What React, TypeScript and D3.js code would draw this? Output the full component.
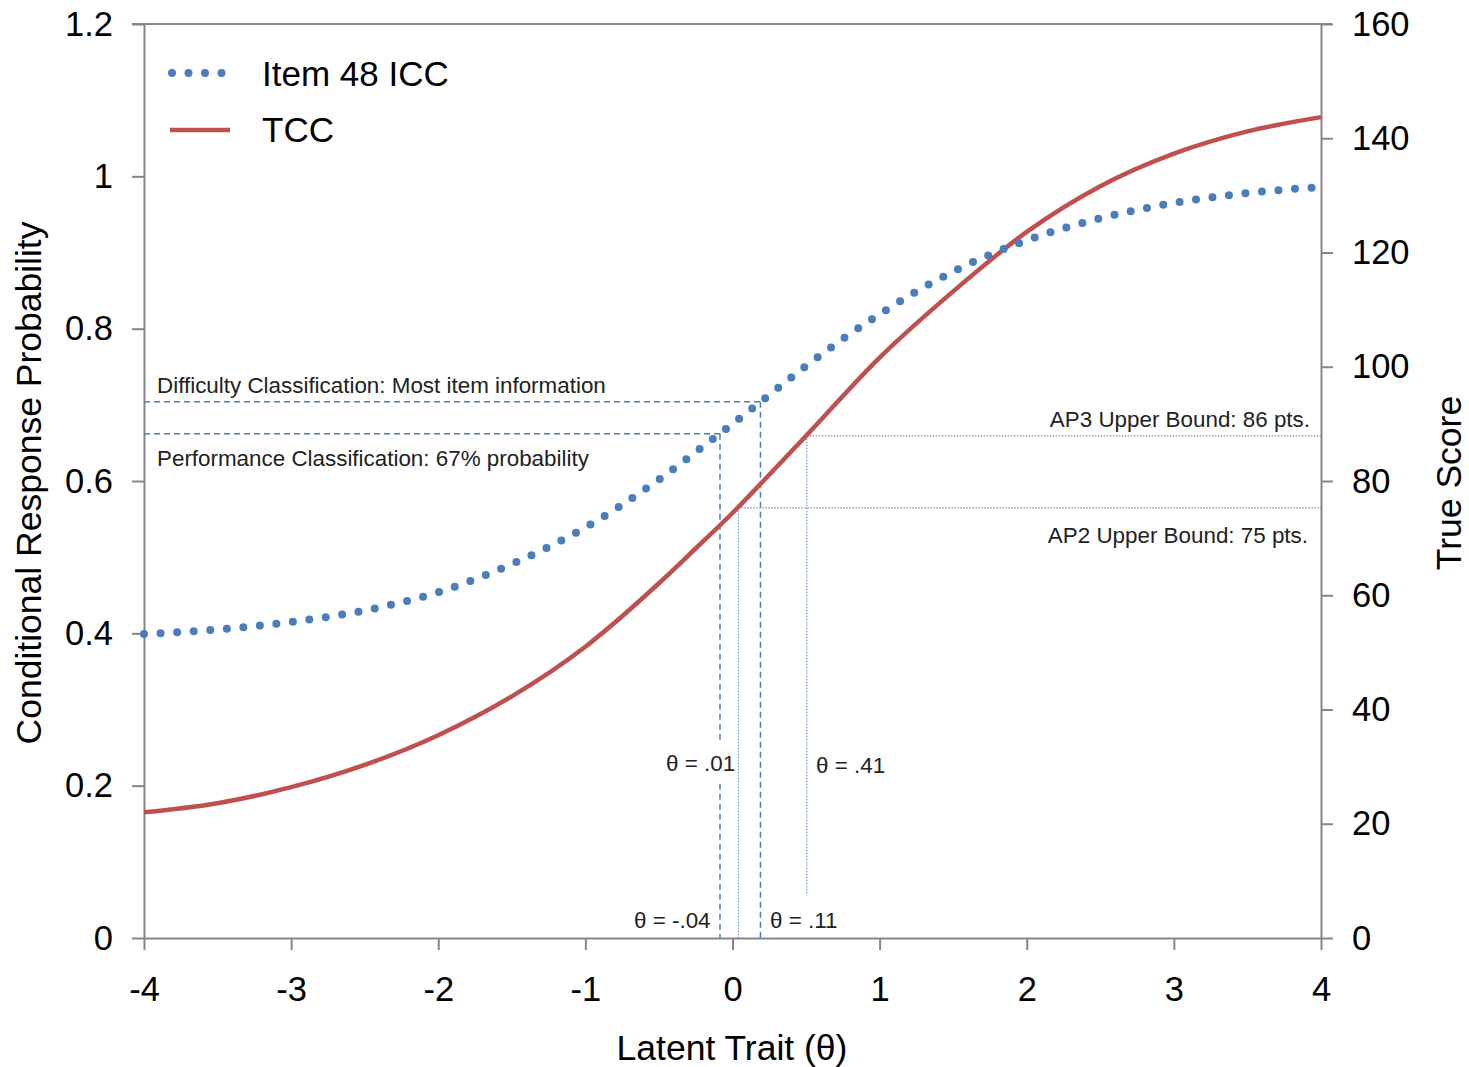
import React, { Component } from "react";
import * as d3 from "d3";

// theta grid and the two curves
const thetas = [-4, -3.5, -3, -2.5, -2, -1.5, -1, -0.5, -0.25, 0, 0.25, 0.5, 1, 1.5, 2, 2.5, 3, 3.5, 4];
const iccValues = [0.399, 0.405, 0.415, 0.43, 0.454, 0.491, 0.539, 0.602, 0.638, 0.675, 0.713, 0.751, 0.819, 0.875, 0.916, 0.945, 0.965, 0.978, 0.986];
const tccValues = [22.0, 23.6, 26.4, 30.3, 35.5, 42.3, 51.0, 62.1, 68.2, 74.4, 81.1, 87.9, 101.6, 113.2, 123.6, 131.6, 137.3, 141.2, 143.7];

const xTicks = [-4, -3, -2, -1, 0, 1, 2, 3, 4];
const leftTicks = [0, 0.2, 0.4, 0.6, 0.8, 1, 1.2];
const rightTicks = [0, 20, 40, 60, 80, 100, 120, 140, 160];

// reference lines (theta, probability / true score)
const difficultyGuide = { theta: 0.19, prob: 0.704 };
const performanceGuide = { theta: -0.085, prob: 0.662 };
const ap3Guide = { theta: 0.505, score: 87.9, bottom: 7.5 };
const ap2Guide = { theta: 0.04, score: 75.3, bottom: 0 };

const FONT = "'Liberation Sans', Arial, sans-serif";
const BLUE = "#4A7EBB";
const RED = "#C0504D";
const AXIS = "#868686";

class App extends Component {
    svgRef = React.createRef<SVGSVGElement>();

    componentDidMount() {
        this.drawChart();
    }

    drawChart() {
        const svg = d3.select(this.svgRef.current);
        svg.selectAll("*").remove();

        const x = d3.scaleLinear().domain([-4, 4]).range([144, 1321]);
        const yLeft = d3.scaleLinear().domain([0, 1.2]).range([938, 24]);
        const yRight = d3.scaleLinear().domain([0, 160]).range([938, 24]);

        //top border
        svg.append("line")
            .attr("x1", 132).attr("x2", 1332)
            .attr("y1", yLeft(1.2)).attr("y2", yLeft(1.2))
            .attr("stroke", AXIS).attr("stroke-width", 2);

        //axes
        const styleAxis = (g: any) => {
            g.select(".domain").attr("stroke", AXIS).attr("stroke-width", 2);
            g.selectAll(".tick line").attr("stroke", AXIS).attr("stroke-width", 2);
            g.selectAll(".tick text")
                .attr("font-family", FONT)
                .attr("font-size", 34.5)
                .attr("fill", "#000");
        };

        svg.append("g")
            .attr("transform", "translate(0," + yLeft(0) + ")")
            .call(d3.axisBottom(x).tickValues(xTicks).tickSize(12).tickSizeOuter(0).tickPadding(27)
                .tickFormat((d: any) => String(d)))
            .call(styleAxis);

        svg.append("g")
            .attr("transform", "translate(" + x(-4) + ",0)")
            .call(d3.axisLeft(yLeft).tickValues(leftTicks).tickSize(12).tickSizeOuter(0).tickPadding(19)
                .tickFormat((d: any) => String(+d.toFixed(1))))
            .call(styleAxis);

        svg.append("g")
            .attr("transform", "translate(" + x(4) + ",0)")
            .call(d3.axisRight(yRight).tickValues(rightTicks).tickSize(12).tickSizeOuter(0).tickPadding(19)
                .tickFormat((d: any) => String(d)))
            .call(styleAxis);

        //guide lines
        const guides = svg.append("g").attr("fill", "none");
        const dashed = (x1: number, y1: number, x2: number, y2: number) =>
            guides.append("line")
                .attr("x1", x1).attr("y1", y1).attr("x2", x2).attr("y2", y2)
                .attr("stroke", BLUE).attr("stroke-width", 1.5)
                .attr("stroke-dasharray", "6 4");
        const dotted = (x1: number, y1: number, x2: number, y2: number) =>
            guides.append("line")
                .attr("x1", x1).attr("y1", y1).attr("x2", x2).attr("y2", y2)
                .attr("stroke", BLUE).attr("stroke-width", 1.2)
                .attr("stroke-opacity", 0.8)
                .attr("stroke-dasharray", "1.5 1.5");

        dashed(x(-4), yLeft(difficultyGuide.prob), x(difficultyGuide.theta), yLeft(difficultyGuide.prob));
        dashed(x(difficultyGuide.theta), yLeft(difficultyGuide.prob), x(difficultyGuide.theta), yLeft(0));
        dashed(x(-4), yLeft(performanceGuide.prob), x(performanceGuide.theta), yLeft(performanceGuide.prob));
        dashed(x(performanceGuide.theta), yLeft(performanceGuide.prob), x(performanceGuide.theta), yLeft(0));

        dotted(x(ap3Guide.theta), yRight(ap3Guide.score), x(4), yRight(ap3Guide.score));
        dotted(x(ap3Guide.theta), yRight(ap3Guide.score), x(ap3Guide.theta), yRight(ap3Guide.bottom));
        dotted(x(ap2Guide.theta), yRight(ap2Guide.score), x(4), yRight(ap2Guide.score));
        dotted(x(ap2Guide.theta), yRight(ap2Guide.score), x(ap2Guide.theta), yRight(ap2Guide.bottom));

        //curves
        const iccLine = d3.line<number>()
            .x((d, i) => x(thetas[i]))
            .y(d => yLeft(d))
            .curve(d3.curveMonotoneX);
        const tccLine = d3.line<number>()
            .x((d, i) => x(thetas[i]))
            .y(d => yRight(d))
            .curve(d3.curveMonotoneX);

        svg.append("path")
            .attr("d", tccLine(tccValues))
            .attr("fill", "none")
            .attr("stroke", RED)
            .attr("stroke-width", 4.5);

        svg.append("path")
            .attr("d", iccLine(iccValues))
            .attr("fill", "none")
            .attr("stroke", BLUE)
            .attr("stroke-width", 8)
            .attr("stroke-linecap", "round")
            .attr("stroke-dasharray", "0 16.6");

        //annotation labels
        const note = (txt: string, px: number, py: number, anchor = "start", box = false) => {
            if (box) {
                svg.append("rect")
                    .attr("x", px - 2).attr("y", py - 29)
                    .attr("width", 71).attr("height", 41)
                    .attr("fill", "#fff");
            }
            svg.append("text")
                .attr("x", px).attr("y", py)
                .attr("text-anchor", anchor)
                .attr("font-family", FONT)
                .attr("font-size", 22.4)
                .attr("fill", "#222")
                .text(txt);
        };
        note("Difficulty Classification: Most item information", 157, 393);
        note("Performance Classification: 67% probability", 157, 466);
        note("AP3 Upper Bound: 86 pts.", 1310, 427, "end");
        note("AP2 Upper Bound: 75 pts.", 1308, 543, "end");
        note("θ = .01", 666, 771, "start", true);
        note("θ = .41", 816, 773);
        note("θ = -.04", 634, 928);
        note("θ = .11", 770, 928);

        //legend
        svg.append("line")
            .attr("x1", 172).attr("x2", 222).attr("y1", 73).attr("y2", 73)
            .attr("stroke", BLUE).attr("stroke-width", 8)
            .attr("stroke-linecap", "round").attr("stroke-dasharray", "0 16.5");
        svg.append("line")
            .attr("x1", 170).attr("x2", 230).attr("y1", 130).attr("y2", 130)
            .attr("stroke", RED).attr("stroke-width", 4.5);
        svg.append("text")
            .attr("x", 262).attr("y", 86)
            .attr("font-family", FONT).attr("font-size", 35)
            .text("Item 48 ICC");
        svg.append("text")
            .attr("x", 262).attr("y", 142)
            .attr("font-family", FONT).attr("font-size", 35)
            .text("TCC");

        //axis titles
        svg.append("text")
            .attr("transform", "translate(41,483) rotate(-90)")
            .attr("text-anchor", "middle")
            .attr("font-family", FONT).attr("font-size", 35.5)
            .text("Conditional Response Probability");
        svg.append("text")
            .attr("transform", "translate(1461,483) rotate(-90)")
            .attr("text-anchor", "middle")
            .attr("font-family", FONT).attr("font-size", 35.5)
            .text("True Score");
        svg.append("text")
            .attr("x", 732).attr("y", 1060)
            .attr("text-anchor", "middle")
            .attr("font-family", FONT).attr("font-size", 35.5)
            .text("Latent Trait (θ)");
    }

    render() {
        return (
            <svg
                ref={this.svgRef}
                width={1469}
                height={1067}
                style={{ position: "absolute", left: 0, top: 0, background: "#fff" }}
            />
        );
    }
}

export default App;
